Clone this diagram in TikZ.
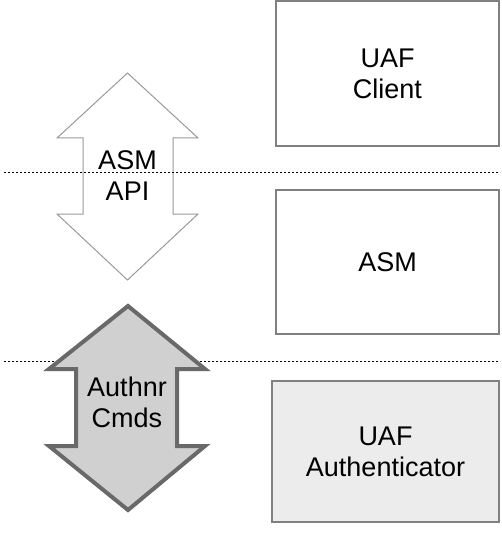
\documentclass[tikz,border=0pt]{standalone}
\usepackage{fontspec}
\setmainfont{Liberation Sans}
\usetikzlibrary{positioning}
\definecolor{Frame}{RGB}{128,128,128}
\definecolor{Pale}{RGB}{236,236,236}
\definecolor{Thin}{RGB}{153,153,153}
\definecolor{Dark}{RGB}{105,105,105}
\definecolor{Mid}{RGB}{208,208,208}

\begin{document}
\begin{tikzpicture}[
    x=1pt,y=-1pt,
    layer/.style={rectangle,draw=Frame,line width=1.3pt,minimum width=223pt,minimum height=144pt,align=center,font=\fontsize{27}{31}\selectfont},
    label/.style={align=center,font=\fontsize{27}{31}\selectfont},
    split/.style={black,line width=0.9pt,dash pattern=on 2pt off 2pt}
]
\useasboundingbox (0,0) rectangle (502,548);

% Layers (right)
\node[layer,minimum height=145pt] (client) at (387.5,73.5) {UAF\\Client};
\node[layer] (asm) at (387.5,262) {ASM};
\node[layer,fill=Pale,minimum width=227pt,minimum height=141pt] (authr) at (385.5,451.5) {UAF\\Authenticator};

% ASM API arrow
\draw[Thin,line width=1pt] (127.5,73) -- (198,138) -- (173,138) -- (173,214) -- (198,214) -- (127.5,280)
    -- (57,214) -- (83,214) -- (83,138) -- (57,138) -- cycle;
\node[label] (api) at (127.5,176) {ASM\\API};

% Boundaries
\draw[split] (4,172) -- (500,172);
\draw[split] (4,361) -- (500,361);

% Authenticator commands arrow
\draw[Dark,fill=Mid,line width=4pt,line join=miter] (128,306) -- (205,369) -- (177,369) -- (177,446) -- (205,446) -- (128,510)
    -- (49,446) -- (76,446) -- (76,369) -- (49,369) -- cycle;
\node[label] (cmds) at (127,402) {Authnr\\Cmds};

\end{tikzpicture}
\end{document}
